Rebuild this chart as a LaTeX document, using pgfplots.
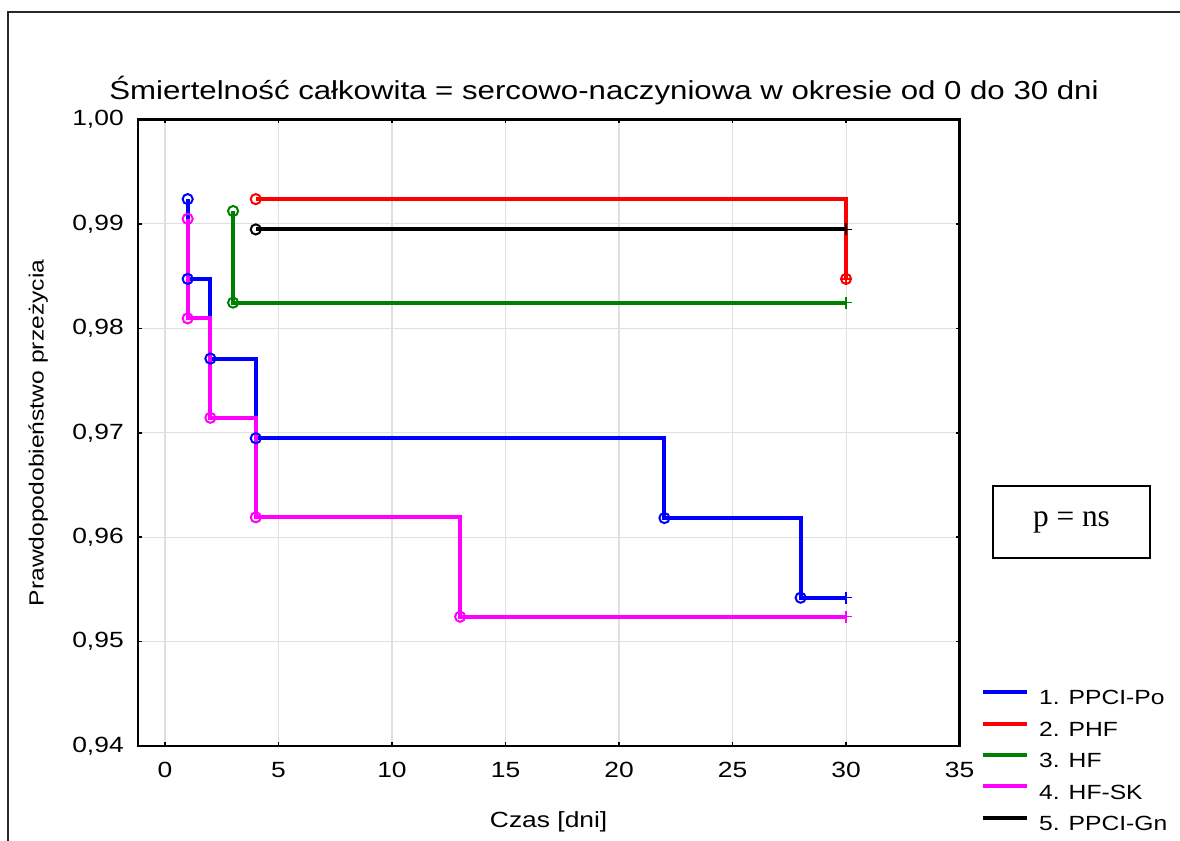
\documentclass[border=0pt]{standalone}
\usepackage{pgfplots}
\pgfplotsset{compat=1.18}
\usepackage{fontspec}
\setmainfont[FakeStretch=1.2]{Liberation Sans}
\newfontfamily\timesfont{Liberation Serif}

\definecolor{kmblue}{RGB}{0,0,255}
\definecolor{kmred}{RGB}{255,0,0}
\definecolor{kmgreen}{RGB}{0,128,0}
\definecolor{kmmagenta}{RGB}{255,0,255}
\definecolor{kmblack}{RGB}{0,0,0}
\definecolor{framegray}{RGB}{40,40,40}

\pgfplotsset{
  kmline/.style={const plot mark left, mark=none, line width=3pt, color=#1},
  kmevent/.style={only marks, mark=o, mark size=3.8pt, color=#1,
    mark options={line width=1.5pt, solid, fill=none}, forget plot},
  kmcens/.style={only marks, mark=+, mark size=4.5pt, color=#1,
    mark options={line width=1.1pt, solid}, forget plot},
}

\begin{document}
\begin{tikzpicture}
\begin{axis}[
  at={(0pt,0pt)}, anchor=south west,
  scale only axis, width=616.35pt, height=469.9pt,
  xmin=-1.2, xmax=35, ymin=0.94, ymax=1.00,
  xtick={0,5,10,15,20,25,30,35},
  ytick={0.94,0.95,0.96,0.97,0.98,0.99,1.00},
  grid=major,
  major grid style={draw=black!12, line width=0.8pt},
  axis line style={line width=1.6pt, black},
  tick style={line width=1.2pt, black},
  major tick length=3pt,
  tick align=inside,
  tick label style={font=\fontsize{16.5}{18}\selectfont},
  /pgf/number format/assume math mode=true,
  yticklabel style={/pgf/number format/.cd, fixed, fixed zerofill, precision=2, use comma, /tikz/.cd, xshift=-7pt},
  xticklabel style={yshift=-8.75pt},
  legend style={at={(1.021,0.094)}, anchor=north west, draw=none, fill=none,
    font=\fontsize{15.4}{17}\selectfont, row sep=9.6pt, column sep=7.5pt,
    nodes={inner sep=0pt, text height=11pt, text depth=3pt, anchor=west}},
  legend cell align=left,
  legend image code/.code={\draw[#1, line width=3pt] (0pt,5.5pt) -- (33pt,5.5pt);},
  clip=false,
]
% 1. PPCI-Po
\addplot[kmline=kmblue] coordinates {(1,0.99237) (1,0.98473) (2,0.97710) (4,0.96947) (22,0.96183) (28,0.95420) (30,0.95420)};
\addlegendentry{1. PPCI-Po}
\addplot[kmevent=kmblue] coordinates {(1,0.99237) (1,0.98473) (2,0.97710) (4,0.96947) (22,0.96183) (28,0.95420)};
\addplot[kmcens=kmblue] coordinates {(30,0.95420)};
% 2. PHF
\addplot[kmline=kmred] coordinates {(4,0.99237) (30,0.98473)};
\addlegendentry{2. PHF}
\addplot[kmevent=kmred] coordinates {(4,0.99237) (30,0.98473)};
\addplot[kmcens=kmred] coordinates {(30,0.98473)};
% 3. HF
\addplot[kmline=kmgreen] coordinates {(3,0.99123) (3,0.98246) (30,0.98246)};
\addlegendentry{3. HF}
\addplot[kmevent=kmgreen] coordinates {(3,0.99123) (3,0.98246)};
\addplot[kmcens=kmgreen] coordinates {(30,0.98246)};
% 4. HF-SK
\addplot[kmline=kmmagenta] coordinates {(1,0.99048) (1,0.98095) (2,0.97143) (4,0.96190) (13,0.95238) (30,0.95238)};
\addlegendentry{4. HF-SK}
\addplot[kmevent=kmmagenta] coordinates {(1,0.99048) (1,0.98095) (2,0.97143) (4,0.96190) (13,0.95238)};
\addplot[kmcens=kmmagenta] coordinates {(30,0.95238)};
% 5. PPCI-Gn
\addplot[kmline=kmblack] coordinates {(4,0.98947) (30,0.98947)};
\addlegendentry{5. PPCI-Gn}
\addplot[kmevent=kmblack] coordinates {(4,0.98947)};
\addplot[kmcens=kmblack] coordinates {(30,0.98947)};
\end{axis}

% title and axis labels
\node[anchor=base, font=\fontsize{19.5}{22}\selectfont] at (349.7pt,485pt)
  {Śmiertelność całkowita = sercowo-naczyniowa w okresie od 0 do 30 dni};
\node[anchor=base, rotate=90, font=\fontsize{15.4}{18}\selectfont] at (-70.65pt,234.75pt)
  {Prawdopodobieństwo przeżycia};
\node[anchor=base, font=\fontsize{16.5}{18}\selectfont] at (308.2pt,-61.5pt)
  {Czas [dni]};

% significance box
\node[draw=black, line width=1.5pt, minimum width=118pt, minimum height=54.5pt,
  font=\timesfont\fontsize{23.5}{26}\selectfont] at (700.3pt,168pt) {p = ns};

% outer frame
\draw[framegray, line width=1.6pt] (-97.3pt,-80pt) -- (-97.3pt,550.5pt) -- (790pt,550.5pt);

\pgfresetboundingbox
\path[use as bounding box] (-103.3pt,-71.25pt) rectangle (781.7pt,559.5pt);
\end{tikzpicture}
\end{document}
